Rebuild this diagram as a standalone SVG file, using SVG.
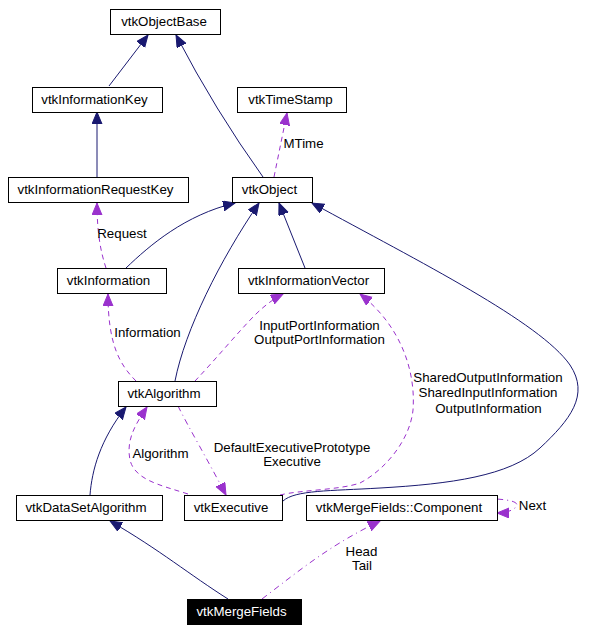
<svg xmlns="http://www.w3.org/2000/svg" width="607" height="631" viewBox="0 0 607 631">
<style>
.n rect{fill:#fff;stroke:#000;stroke-width:1}
.n text,.l{font-family:"Liberation Sans",Arial,sans-serif;font-size:13.3px;text-anchor:middle;fill:#000}
.inh{fill:none;stroke:#191970;stroke-width:1;marker-end:url(#an)}
.use{fill:none;stroke:#9a32cd;stroke-width:1;stroke-dasharray:5,4;marker-end:url(#ap)}
.dd{stroke-dasharray:6,4,1,4}
</style>
<defs>
<marker id="an" markerUnits="userSpaceOnUse" markerWidth="13" markerHeight="11" refX="12" refY="5" orient="auto"><path d="M0,0 L12,5 L0,10 z" fill="#191970" stroke="#191970"/></marker>
<marker id="ap" markerUnits="userSpaceOnUse" markerWidth="13" markerHeight="11" refX="12" refY="5" orient="auto"><path d="M0,0 L12,5 L0,10 z" fill="#9a32cd" stroke="#9a32cd"/></marker>
</defs>
<rect width="607" height="631" fill="#fff"/>
<g id="edges">
<path class="inh" d="M109,86 L148,35"/>
<path class="inh" d="M263,177 Q215,110 176,35"/>
<path class="inh" d="M97,177 L97,112"/>
<path class="use" d="M274,177 L287,113"/>
<path class="use" d="M106,268 C100,250 97,230 97,203"/>
<path class="inh" d="M126,268 C150,245 185,215 235,203"/>
<path class="inh" d="M175,381 C185,330 220,260 259,203"/>
<path class="inh" d="M305,268 L279,203"/>
<path class="inh" d="M283,501 C295,490 330,491 380,488 C450,484 510,476 540,448 C570,420 590,395 570,365 C540,322 420,262 312,203"/>
<path class="use" d="M136,381 C120,365 108,345 108,294"/>
<path class="use" d="M195,381 C215,360 240,330 255,315 C265,305 275,298 283,294"/>
<path class="use" d="M280,495 C300,490 340,490 360,483 C385,470 410,440 413,410 C416,370 400,325 360,294"/>
<path class="use" d="M188,494 C160,485 135,480 130,460 C126,440 135,425 147,407"/>
<path class="use dd" d="M178,406 C190,430 205,455 226,495"/>
<path class="inh" d="M90,495 C92,470 100,440 126,407"/>
<path class="inh" d="M228,599 C190,575 160,550 110,521"/>
<path class="use dd" d="M262,599 C300,570 330,545 380,521"/>
<path class="use dd" d="M497,499 C510,500 520,502 516,507 C512,511 505,513 497,513"/>
</g>
<g id="vtkObjectBase" class="n"><rect x="110.5" y="9.5" width="110" height="25"/><text x="164" y="26">vtkObjectBase</text></g>
<g id="vtkInformationKey" class="n"><rect x="32.5" y="87.5" width="130" height="25"/><text x="94.5" y="104">vtkInformationKey</text></g>
<g id="vtkTimeStamp" class="n"><rect x="237.5" y="87.5" width="109" height="25"/><text x="290.5" y="104">vtkTimeStamp</text></g>
<g id="vtkInformationRequestKey" class="n"><rect x="8.5" y="177.5" width="180" height="25"/><text x="95.5" y="194">vtkInformationRequestKey</text></g>
<g id="vtkObject" class="n"><rect x="232.5" y="177.5" width="80" height="25"/><text x="269.5" y="194">vtkObject</text></g>
<g id="vtkInformation" class="n"><rect x="57.5" y="268.5" width="109" height="25"/><text x="108.5" y="285">vtkInformation</text></g>
<g id="vtkInformationVector" class="n"><rect x="238.5" y="268.5" width="146" height="25"/><text x="308.5" y="285">vtkInformationVector</text></g>
<g id="vtkAlgorithm" class="n"><rect x="118.5" y="381.5" width="98" height="25"/><text x="164" y="398">vtkAlgorithm</text></g>
<g id="vtkDataSetAlgorithm" class="n"><rect x="16.5" y="495.5" width="146" height="25"/><text x="86" y="512">vtkDataSetAlgorithm</text></g>
<g id="vtkExecutive" class="n"><rect x="184.5" y="495.5" width="98" height="25"/><text x="231" y="512">vtkExecutive</text></g>
<g id="vtkMergeFields_Component" class="n"><rect x="306.5" y="495.5" width="191" height="25"/><text x="399" y="512">vtkMergeFields::Component</text></g>
<g id="vtkMergeFields"><rect x="187.5" y="599.5" width="114" height="25" fill="#000" stroke="#000"/><text x="241.5" y="616" font-family="Liberation Sans,Arial,sans-serif" font-size="13.3" text-anchor="middle" fill="#fff">vtkMergeFields</text></g>
<g id="labels">
<text class="l" x="303.5" y="148">MTime</text>
<text class="l" x="122" y="238">Request</text>
<text class="l" x="147.5" y="337">Information</text>
<text class="l" x="319.5" y="330">InputPortInformation</text>
<text class="l" x="319.5" y="344">OutputPortInformation</text>
<text class="l" x="488" y="382">SharedOutputInformation</text>
<text class="l" x="488" y="397">SharedInputInformation</text>
<text class="l" x="488.5" y="413">OutputInformation</text>
<text class="l" x="160.5" y="458">Algorithm</text>
<text class="l" x="292" y="452">DefaultExecutivePrototype</text>
<text class="l" x="292" y="466">Executive</text>
<text class="l" x="361.5" y="556">Head</text>
<text class="l" x="362" y="570">Tail</text>
<text class="l" x="532.5" y="510">Next</text>
</g>
</svg>
